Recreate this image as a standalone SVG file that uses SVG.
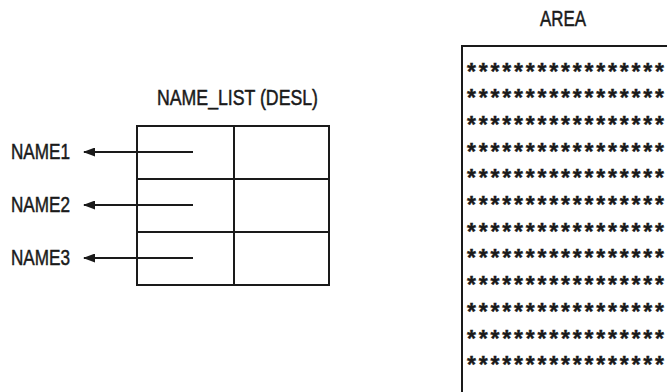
<svg xmlns="http://www.w3.org/2000/svg" width="667" height="392" viewBox="0 0 667 392">
<style>
.t{font-family:"Liberation Sans","DejaVu Sans",sans-serif;font-size:22px;fill:#1a1a1a;stroke:#1a1a1a;stroke-width:0.5}
.ln{stroke:#1a1a1a;stroke-width:2;fill:none}
.st{font-family:"Liberation Sans","DejaVu Sans",sans-serif;font-size:23px;fill:#1a1a1a;font-weight:bold;stroke:#1a1a1a;stroke-width:0.4}
</style>
<defs>
<marker id="ah" markerWidth="12" markerHeight="9" refX="11" refY="4.5" orient="auto" markerUnits="userSpaceOnUse">
<path d="M0,0 L12,4.5 L0,9 Z" fill="#1a1a1a"/>
</marker>
</defs>
<rect width="667" height="392" fill="#fff"/>
<g id="name_list">
<text class="t" x="157" y="105" textLength="161" lengthAdjust="spacingAndGlyphs">NAME_LIST (DESL)</text>
<rect class="ln" x="137" y="126" width="192" height="159"/>
<line class="ln" x1="234" y1="126" x2="234" y2="285"/>
<line class="ln" x1="137" y1="179" x2="329" y2="179"/>
<line class="ln" x1="137" y1="232" x2="329" y2="232"/>
</g>
<g id="name1"><text class="t" x="11" y="159" textLength="59" lengthAdjust="spacingAndGlyphs">NAME1</text></g>
<g id="name2"><text class="t" x="11" y="212" textLength="59" lengthAdjust="spacingAndGlyphs">NAME2</text></g>
<g id="name3"><text class="t" x="11" y="265" textLength="59" lengthAdjust="spacingAndGlyphs">NAME3</text></g>
<g id="connectors">
<line class="ln" x1="193" y1="152" x2="84" y2="152" marker-end="url(#ah)"/>
<line class="ln" x1="193" y1="205" x2="84" y2="205" marker-end="url(#ah)"/>
<line class="ln" x1="193" y1="258" x2="84" y2="258" marker-end="url(#ah)"/>
</g>
<g id="area">
<text class="t" x="540" y="26" textLength="46" lengthAdjust="spacingAndGlyphs">AREA</text>
<path class="ln" d="M462,392 V46 H667"/>
<g class="st">
<text x="467" y="79.5" textLength="197" lengthAdjust="spacing">*****************</text>
<text x="467" y="106.2" textLength="197" lengthAdjust="spacing">*****************</text>
<text x="467" y="132.9" textLength="197" lengthAdjust="spacing">*****************</text>
<text x="467" y="159.6" textLength="197" lengthAdjust="spacing">*****************</text>
<text x="467" y="186.3" textLength="197" lengthAdjust="spacing">*****************</text>
<text x="467" y="213" textLength="197" lengthAdjust="spacing">*****************</text>
<text x="467" y="239.7" textLength="197" lengthAdjust="spacing">*****************</text>
<text x="467" y="266.4" textLength="197" lengthAdjust="spacing">*****************</text>
<text x="467" y="293.1" textLength="197" lengthAdjust="spacing">*****************</text>
<text x="467" y="319.8" textLength="197" lengthAdjust="spacing">*****************</text>
<text x="467" y="346.5" textLength="197" lengthAdjust="spacing">*****************</text>
<text x="467" y="373.2" textLength="197" lengthAdjust="spacing">*****************</text>
</g>
</g>
</svg>
